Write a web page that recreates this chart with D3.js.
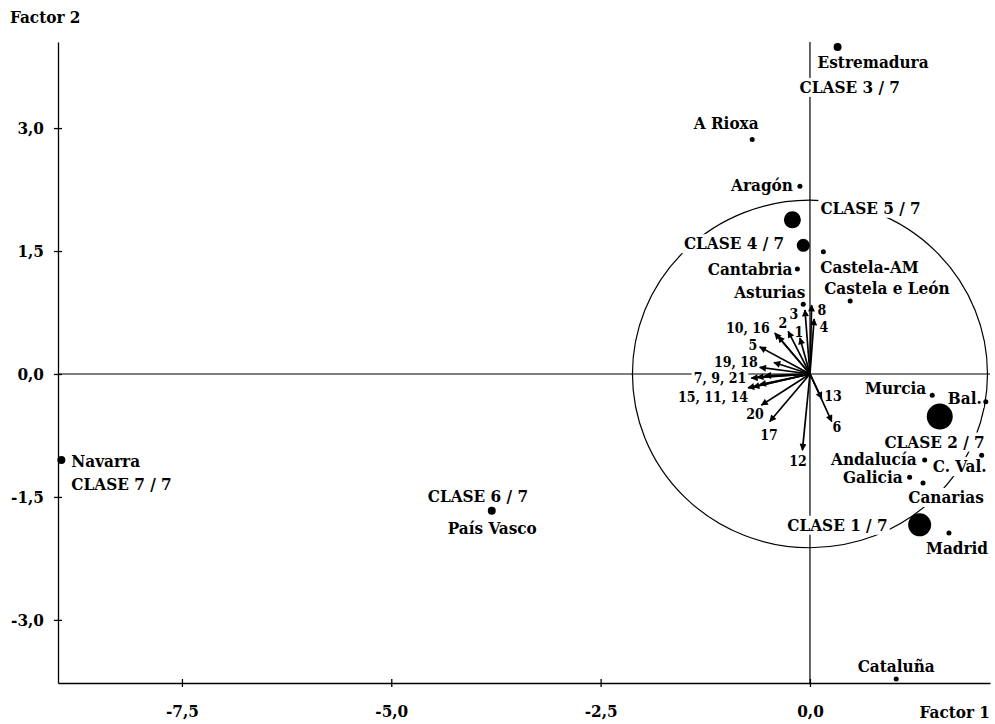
<!DOCTYPE html>
<html>
<head>
<meta charset="utf-8">
<script src="https://cdn.jsdelivr.net/npm/d3@7"></script>
<style>
  body { margin: 0; background: #fff; }
  svg text { font-family: "DejaVu Serif Condensed", "DejaVu Serif", serif; font-stretch: condensed; font-weight: bold; fill: #000; }
</style>
</head>
<body>
<script>
// Regions (Comunidades) on the factorial plane
const regionNames = ["Estremadura", "A Rioxa", "Aragón", "Castela-AM", "Cantabria", "Asturias",
  "Castela e León", "Murcia", "Bal.", "C. Val.", "Andalucía", "Galicia", "Canarias",
  "Madrid", "Cataluña", "Navarra", "País Vasco"];
const regionX = [0.33, -0.69, -0.12, 0.16, -0.15, -0.08, 0.48, 1.46, 2.10, 2.05, 1.37, 1.19, 1.35, 1.66, 1.03, -8.94, -3.80];
const regionY = [3.99, 2.86, 2.29, 1.49, 1.28, 0.85, 0.89, -0.26, -0.34, -0.99, -1.05, -1.26, -1.33, -1.94, -3.72, -1.05, -1.67];

// Class centres
const classNames = ["CLASE 1 / 7", "CLASE 2 / 7", "CLASE 3 / 7", "CLASE 4 / 7", "CLASE 5 / 7", "CLASE 6 / 7", "CLASE 7 / 7"];
const classX = [1.31, 1.55, 0.33, -0.08, -0.21, -3.80, -8.94];
const classY = [-1.84, -0.52, 3.99, 1.57, 1.88, -1.67, -1.05];

// Active variables (arrows)
const varNames = ["1","2","3","4","5","6","7","8","9","10","11","12","13","14","15","16","17","18","19","20","21"];
const varX = [-0.12, -0.26, -0.06, 0.05, -0.60, 0.26, -0.70, 0.02, -0.63, -0.42, -0.68, -0.09, 0.14, -0.60, -0.74, -0.38, -0.48, -0.43, -0.60, -0.58, -0.54];
const varY = [0.44, 0.52, 0.78, 0.67, 0.33, -0.58, -0.05, 0.84, -0.04, 0.50, -0.16, -0.93, -0.30, -0.13, -0.17, 0.46, -0.58, 0.14, 0.08, -0.38, -0.02];

// Correlation circle radius
const circleR = 2.12;

// Axis ticks
const xTicks = [-7.5, -5.0, -2.5, 0.0];
const yTicks = [-3.0, -1.5, 0.0, 1.5, 3.0];

// Layout: label placement in px relative to the point [dx, dy, anchor]
const regionLabelPos = {
  "Estremadura": [-20, 15, "start"], "A Rioxa": [-26, -16, "middle"], "Aragón": [-7, -1, "end"],
  "Castela-AM": [-3, 15, "start"], "Cantabria": [-5, 0, "end"], "Asturias": [2, -12, "end"],
  "Castela e León": [-26, -13, "start"], "Murcia": [-6, -7, "end"], "Bal.": [-4, -4, "end"],
  "C. Val.": [5, 11, "end"], "Andalucía": [-8, -1, "end"], "Galicia": [-7, 0, "end"],
  "Canarias": [23, 14, "middle"], "Madrid": [-23, 15, "start"], "Cataluña": [0, -13, "middle"],
  "Navarra": [10, 1, "start"], "País Vasco": [-44, 17, "start"]
};
const classLabelPos = [[-32, 0, "end"], [45, 25, "end"], [-38, 40, "start"], [-19, -2, "end"],
  [28, -12, "start"], [-64, -15, "start"], [10, 24, "start"]];
const classRadius = [11.5, 13, 4, 6.5, 8.5, 4, 4];
const varLabels = ["8", "4", "3", "2", "1", "10, 16", "5", "19, 18", "7, 9, 21", "15, 11, 14", "20", "17", "12", "13", "6"];
const varLabelPos = [[12, -64], [14, -47], [-16, -60], [-27, -51], [-11, -42], [-62, -46], [-57, -29],
  [-74, -12], [-90, 4], [-97, 23], [-55, 40], [-41, 61], [-12, 87], [23, 22], [27, 53]];

const W = 995, H = 724;
const svg = d3.select("body").append("svg").attr("width", W).attr("height", H);

const x = d3.scaleLinear().domain([-8.98, 2.15]).range([58, 990]);
const y = d3.scaleLinear().domain([-3.77, 4.05]).range([683, 42]);
const fmt = v => d3.format(".1f")(v).replace(".", ",").replace("\u2212", "-");

// Axes
const yAxis = svg.append("g").attr("transform", `translate(${x(-8.98)},0)`)
  .call(d3.axisLeft(y).tickValues(yTicks).tickFormat(fmt).tickSize(0).tickPadding(14));
yAxis.selectAll(".tick line").attr("x1", -4).attr("x2", 4);
const xAxis = svg.append("g").attr("transform", `translate(0,${y(-3.77)})`)
  .call(d3.axisBottom(x).tickValues(xTicks).tickFormat(fmt).tickSize(0).tickPadding(22));
xAxis.selectAll(".tick line").attr("y1", -4).attr("y2", 4);
svg.selectAll(".domain, .tick line").attr("stroke", "#000").attr("stroke-width", 1.3);
svg.selectAll(".tick text").style("font-size", "17px").attr("fill", "#000");

// Zero lines
svg.append("line").attr("x1", x(-8.98)).attr("x2", x(2.15)).attr("y1", y(0)).attr("y2", y(0))
  .attr("stroke", "#000").attr("stroke-width", 1.2);
svg.append("line").attr("x1", x(0)).attr("x2", x(0)).attr("y1", y(4.05)).attr("y2", y(-3.77))
  .attr("stroke", "#000").attr("stroke-width", 1.2);

// Correlation circle
svg.append("ellipse").attr("cx", x(0)).attr("cy", y(0))
  .attr("rx", x(circleR) - x(0)).attr("ry", y(0) - y(circleR))
  .attr("fill", "none").attr("stroke", "#000").attr("stroke-width", 1.2);

// Axis titles
svg.append("text").attr("x", 10).attr("y", 17).attr("dy", "0.35em").style("font-size", "17px").text("Factor 2");
svg.append("text").attr("x", 990).attr("y", 712).attr("dy", "0.35em").attr("text-anchor", "end").style("font-size", "17px").text("Factor 1");

const bgLayer = svg.append("g");
const arrowLayer = svg.append("g");
const dotLayer = svg.append("g");
const labelLayer = svg.append("g");

// Arrow marker
svg.append("defs").append("marker").attr("id", "ah")
  .attr("viewBox", "0 0 10 10").attr("refX", 9).attr("refY", 5)
  .attr("markerWidth", 9).attr("markerHeight", 7).attr("markerUnits", "userSpaceOnUse")
  .attr("orient", "auto")
  .append("path").attr("d", "M0,0L10,5L0,10Z").attr("fill", "#000");

arrowLayer.selectAll("line").data(varNames).join("line")
  .attr("x1", x(0)).attr("y1", y(0))
  .attr("x2", (d, i) => x(varX[i])).attr("y2", (d, i) => y(varY[i]))
  .attr("stroke", "#000").attr("stroke-width", 1.7)
  .attr("marker-end", "url(#ah)");

// Dots
dotLayer.selectAll("circle.r").data(regionNames).join("circle").attr("class", "r")
  .attr("cx", (d, i) => x(regionX[i])).attr("cy", (d, i) => y(regionY[i])).attr("r", 2.5).attr("fill", "#000");
dotLayer.selectAll("circle.c").data(classNames).join("circle").attr("class", "c")
  .attr("cx", (d, i) => x(classX[i])).attr("cy", (d, i) => y(classY[i]))
  .attr("r", (d, i) => classRadius[i]).attr("fill", "#000");

// Labels with white boxes that hide the lines behind them
function addLabel(px, py, txt, anchor, size) {
  const t = labelLayer.append("text").attr("x", px).attr("y", py).attr("dy", "0.35em")
    .attr("text-anchor", anchor).style("font-size", size + "px").text(txt);
  const b = t.node().getBBox();
  bgLayer.append("rect").attr("x", b.x - 2).attr("y", b.y + 1).attr("width", b.width + 4)
    .attr("height", b.height - 1).attr("fill", "#fff");
}

regionNames.forEach((n, i) => {
  const p = regionLabelPos[n];
  addLabel(x(regionX[i]) + p[0], y(regionY[i]) + p[1], n, p[2], 17);
});
classNames.forEach((n, i) => {
  const p = classLabelPos[i];
  addLabel(x(classX[i]) + p[0], y(classY[i]) + p[1], n, p[2], 17);
});
varLabels.forEach((n, i) => {
  const p = varLabelPos[i];
  addLabel(x(0) + p[0], y(0) + p[1], n, "middle", 14);
});
</script>
</body>
</html>
